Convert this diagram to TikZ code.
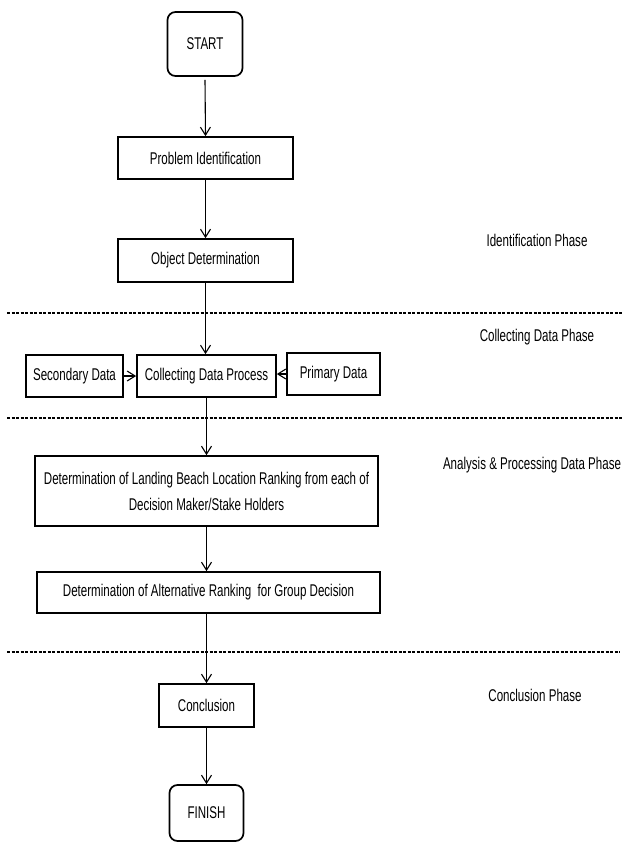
\documentclass[tikz,border=0pt]{standalone}
\usepackage{fontspec}
\setmainfont{Liberation Sans}[FakeStretch=0.68]
\usetikzlibrary{arrows.meta}
\begin{document}
\begin{tikzpicture}[x=1pt,y=-1pt,
  font=\fontsize{17}{26}\selectfont,
  box/.style={draw=black,line width=1.7pt,inner sep=0pt,align=center},
  term/.style={box,rounded corners=8pt},
  arr/.style={line width=1.1pt,-{Straight Barb[length=8pt,width=10pt,line width=1.1pt]}},
  sep/.style={line width=2.3pt,dash pattern=on 3pt off 1.5pt},
  phase/.style={inner sep=0pt}]
\useasboundingbox (0,0) rectangle (622,843);
\node[term,minimum width=75pt,minimum height=64pt] (start) at (205,44) {START};
\node[box,minimum width=175pt,minimum height=42pt] (pi) at (205.5,158) {Problem Identification};
\node[box,minimum width=175pt,minimum height=43pt] (od) at (205.5,260.5) {Object Determination};
\node[box,minimum width=97pt,minimum height=42pt] (sd) at (74.5,376) {Secondary Data};
\node[box,minimum width=139pt,minimum height=42pt] (cd) at (206.5,376) {Collecting Data Process};
\node[box,minimum width=93pt,minimum height=42pt] (pd) at (333.5,374) {Primary Data};
\node[box,minimum width=343pt,minimum height=70pt] (lb) at (206.5,491) {Determination of Landing Beach Location Ranking from each of\\Decision Maker/Stake Holders};
\node[box,minimum width=343pt,minimum height=41pt] (ar) at (208.5,592.5) {Determination of Alternative Ranking\ \ for Group Decision};
\node[box,minimum width=95pt,minimum height=43pt] (cn) at (206.5,705.5) {Conclusion};
\node[term,minimum width=74pt,minimum height=56pt] (fin) at (206.5,813) {FINISH};
\node[phase] (p1) at (537,240) {Identification Phase};
\node[phase] (p2) at (537,337) {Collecting Data Phase};
\node[phase] (p3) at (532,465) {Analysis \& Processing Data Phase};
\node[phase] (p4) at (535,695) {Conclusion Phase};
\coordinate (d1a) at (7,313); \coordinate (d1b) at (622,313);
\coordinate (d2a) at (7,418); \coordinate (d2b) at (622,418);
\coordinate (d3a) at (7,652); \coordinate (d3b) at (620,652);
\draw[sep] (d1a) -- (d1b);
\draw[sep] (d2a) -- (d2b);
\draw[sep] (d3a) -- (d3b);
\draw[arr] (start.south) ++(0,3) -- (pi.north);
\draw[arr] (pi) -- (od);
\draw[arr] (od.south) -- (od.south |- cd.north);
\draw[arr] (sd) -- (cd);
\draw[arr] (pd.west) -- (cd.east |- pd.west);
\draw[arr] (cd.south) -- (cd.south |- lb.north);
\draw[arr] (lb.south) -- (lb.south |- ar.north);
\draw[arr] (ar.south -| cn.north) -- (cn.north);
\draw[arr] (cn.south) -- (fin.north);
\end{tikzpicture}
\end{document}
